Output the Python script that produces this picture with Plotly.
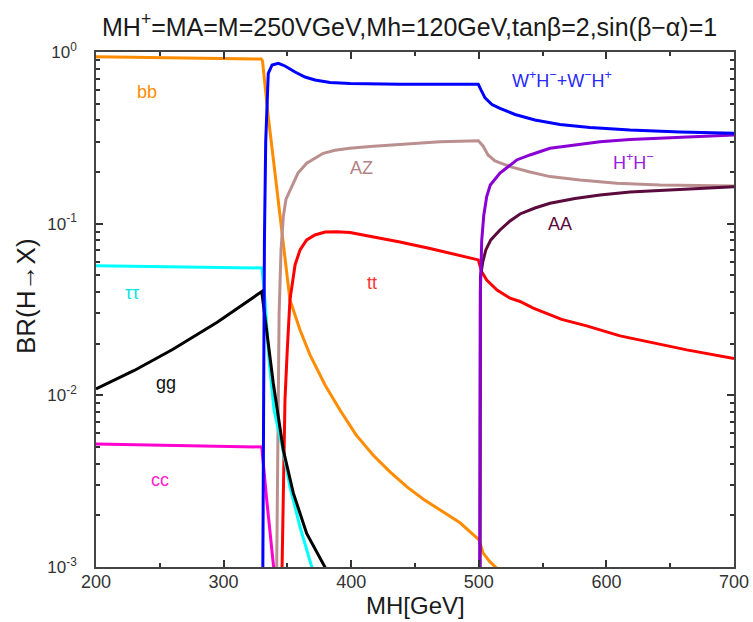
import plotly.graph_objects as go

# ---------------- data ----------------
mh_bb = [200, 250, 300, 329.5, 330.5, 335, 340, 346.8, 352, 359.9, 367.7, 379.5, 391.2, 403.8, 417.1, 430.4,
         443.7, 456.3, 469.6, 485.3, 500.2, 503.3, 508.8, 514.3]
br_bb = [0.939, 0.93, 0.92, 0.91, 0.886, 0.42, 0.205, 0.080, 0.036, 0.024, 0.0172, 0.0115, 0.00822, 0.00588,
         0.00449, 0.00358, 0.00293, 0.00249, 0.00215, 0.00181, 0.00144, 0.00121, 0.00107, 0.00098]

mh_wh = [330.7, 331.2, 332, 333, 335, 338, 342.9, 348.1, 356.0, 363.8, 371.6, 383.4, 399.1, 438.2, 499.6,
         501.7, 504.9, 510.3, 516.6, 528.4, 544.0, 563.6, 587.1, 618.5, 657.7, 700]
br_wh = [0.0008, 0.01, 0.08, 0.3, 0.75, 0.84, 0.859, 0.829, 0.765, 0.715, 0.687, 0.664, 0.656, 0.649, 0.648,
         0.601, 0.540, 0.4945, 0.469, 0.4325, 0.402, 0.378, 0.363, 0.351, 0.342, 0.336]

mh_az = [341.5, 342.5, 343.5, 345, 346.8, 348.9, 352, 358.3, 365.1, 371.6, 378.1, 387.3, 399, 414.7, 430.4,
         450, 469.6, 499.6, 503.3, 507.2, 512.7, 524.5, 540.1, 555.8, 579.3, 608.1, 641.9, 700]
br_az = [0.0008, 0.005, 0.03, 0.07, 0.11, 0.139, 0.157, 0.197, 0.225, 0.2414, 0.257, 0.2677, 0.275, 0.2816,
         0.287, 0.2943, 0.300, 0.304, 0.2835, 0.2512, 0.2318, 0.215, 0.200, 0.188, 0.1797, 0.172, 0.168, 0.166]

mh_hphm = [500.7, 500.9, 501.2, 502.3, 503.9, 506.2, 509.0, 516.6, 522.9, 529.7, 540.1, 555.8, 575.4, 595,
           618.5, 647.3, 673.4, 700]
br_hphm = [0.0008, 0.01, 0.04, 0.080, 0.112, 0.144, 0.168, 0.197, 0.2139, 0.235, 0.2513, 0.275, 0.2873, 0.300,
           0.3093, 0.317, 0.3233, 0.329]

mh_aa = [501.0, 501.3, 503.1, 505.5, 509.4, 516.6, 524.5, 532.3, 544.0, 555.8, 575.4, 595.0, 618.5, 647.3,
         673.4, 700]
br_aa = [0.0008, 0.0489, 0.0598, 0.0703, 0.0804, 0.0919, 0.1037, 0.1139, 0.1234, 0.1315, 0.1402, 0.1469,
         0.1530, 0.1571, 0.1614, 0.1642]

mh_tt = [345.6, 345.8, 346.8, 348.1, 349.9, 352.0, 356.0, 359.9, 365.1, 371.6, 379.5, 388.6, 399.1, 417.3,
         438.2, 461.8, 477.4, 499.6, 502.3, 506.2, 514.3, 524.5, 532.3, 542.7, 564.9, 584.5, 610.7, 636.8, 663, 700]
br_tt = [0.0008, 0.001, 0.00384, 0.0094, 0.01837, 0.036, 0.0575, 0.0703, 0.0804, 0.0859, 0.0895, 0.0898,
         0.0888, 0.0840, 0.0782, 0.0717, 0.0673, 0.0615, 0.0525, 0.047, 0.0411, 0.0368, 0.0352, 0.0322, 0.0277,
         0.0254, 0.0222, 0.0203, 0.0184, 0.0164]

mh_tautau = [200, 260, 330.1, 332.4, 335.6, 339.5, 346.6, 352, 359.9, 370]
br_tautau = [0.0569, 0.056, 0.0552, 0.036, 0.0161, 0.0082, 0.0048, 0.00293, 0.00171, 0.00095]

mh_gg = [200, 230, 260, 295, 329.9, 332.4, 338.9, 346.8, 354.6, 365.1, 381]
br_gg = [0.0109, 0.01396, 0.01849, 0.02667, 0.0402, 0.0287, 0.0118, 0.0048, 0.0027, 0.00157, 0.00095]

mh_cc = [200, 265, 329.9, 333.8, 339.5]
br_cc = [0.0052, 0.0051, 0.0050, 0.00246, 0.00095]

# label texts and where they sit (x in GeV, y as log10 BR)
label_text = ["bb", "W<sup>+</sup>H<sup>−</sup>+W<sup>−</sup>H<sup>+</sup>", "AZ", "H<sup>+</sup>H<sup>−</sup>",
              "AA", "ττ", "tt", "gg", "cc"]
label_x = [240, 565, 408, 621, 564, 228, 416, 255, 250]
label_logy = [-0.233, -0.159, -0.677, -0.639, -1.002, -1.405, -1.347, -1.928, -2.493]

x_ticks = [200, 300, 400, 500, 600, 700]
y_ticks = [1, 0.1, 0.01, 0.001]
y_ticktext = ["10<sup>0</sup>", "10<sup>-1</sup>", "10<sup>-2</sup>", "10<sup>-3</sup>"]

# ---------------- styling ----------------
C_BB = "#FF8C00"
C_WH = "#0000FF"
C_AZ = "#BC8F8F"
C_HH = "#8A00D4"
C_AA = "#5A0A3C"
C_TT = "#FF0000"
C_TAU = "#00FFFF"
C_GG = "#000000"
C_CC = "#FF00D0"

series = [
    (mh_bb, br_bb, C_BB),
    (mh_az, br_az, C_AZ),
    (mh_tt, br_tt, C_TT),
    (mh_tautau, br_tautau, C_TAU),
    (mh_gg, br_gg, C_GG),
    (mh_cc, br_cc, C_CC),
    (mh_aa, br_aa, C_AA),
    (mh_hphm, br_hphm, C_HH),
    (mh_wh, br_wh, C_WH),
]
label_colors = [C_BB, "#2828FF", "#B48282", "#9A20DA", C_AA, "#00E5E5", "#FF3030", "#111111", "#FF20D0"]

fig = go.Figure()
for xs, ys, col in series:
    fig.add_trace(go.Scatter(x=xs, y=ys, mode="lines",
                             line=dict(color=col, width=3), showlegend=False,
                             hoverinfo="skip"))

FONT = "Liberation Sans, Arial, sans-serif"
annotations = []
for t, x, ly, c in zip(label_text, label_x, label_logy, label_colors):
    annotations.append(dict(x=x, y=ly, xref="x", yref="y", text=t, showarrow=False,
                            xanchor="center", yanchor="middle",
                            font=dict(family=FONT, size=18, color=c)))

annotations.append(dict(xref="paper", yref="paper", x=0.4906, y=1.0524,
                        xanchor="center", yanchor="middle",
                        text="MH<sup>+</sup>=MA=M=250VGeV,Mh=120GeV,tanβ=2,sin(β−α)=1",
                        showarrow=False, font=dict(family=FONT, size=25, color="#1a1a1a")))
annotations.append(dict(xref="paper", yref="paper", x=-0.1097, y=0.5262, textangle=-90,
                        xanchor="center", yanchor="middle",
                        text="BR(H→X)", showarrow=False,
                        font=dict(family=FONT, size=26, color="#1a1a1a")))
annotations.append(dict(xref="paper", yref="paper", x=0.5, y=-0.0738,
                        xanchor="center", yanchor="middle",
                        text="MH[GeV]", showarrow=False,
                        font=dict(family=FONT, size=24, color="#1a1a1a")))

minor_y = [k * 10 ** e for e in (-3, -2, -1) for k in range(2, 10)]
minor_x = [250, 350, 450, 550, 650]

fig.update_layout(
    width=753, height=622,
    margin=dict(l=96, r=19, t=52, b=55, autoexpand=False),
    paper_bgcolor="white", plot_bgcolor="white",
    annotations=annotations,
    font=dict(family=FONT, color="#333333"),
    xaxis=dict(range=[200, 700], tickmode="array", tickvals=x_ticks, automargin=False,
               ticks="inside", ticklen=7, tickwidth=1.5, tickcolor="#333",
               showline=True, linecolor="#444", linewidth=1.5, mirror="ticks",
               showgrid=False, zeroline=False,
               tickfont=dict(family=FONT, size=18, color="#333"),
               ticklabelstandoff=-2, ticklabeloverflow="allow",
               minor=dict(tickmode="array", tickvals=minor_x, ticks="inside",
                          ticklen=4, tickwidth=1.5, tickcolor="#333", showgrid=False)),
    yaxis=dict(type="log", range=[-3, 0], tickmode="array", tickvals=y_ticks,
               ticktext=y_ticktext, automargin=False,
               ticks="inside", ticklen=7, tickwidth=1.5, tickcolor="#333",
               showline=True, linecolor="#444", linewidth=1.5, mirror="ticks",
               showgrid=False, zeroline=False,
               tickfont=dict(family=FONT, size=17, color="#333"),
               ticklabelstandoff=14, ticklabeloverflow="allow",
               minor=dict(tickmode="array", tickvals=minor_y, ticks="inside",
                          ticklen=4, tickwidth=1.5, tickcolor="#333", showgrid=False)),
)

# remove the browser's default 8px page margin so the 753x622 figure fills the window exactly
fig.write_html("out.html", config={"displayModeBar": False},
               post_script="document.body.style.margin='0';document.body.style.overflow='hidden';")
